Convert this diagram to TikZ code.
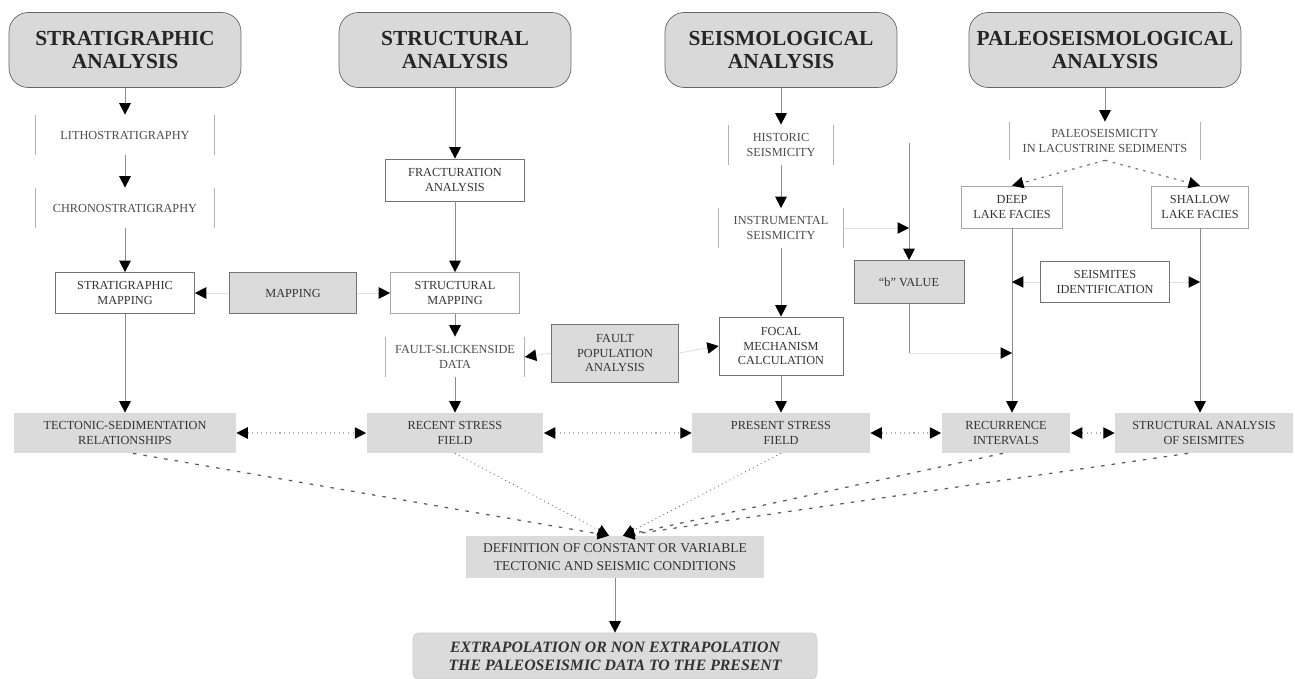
\documentclass[tikz,border=0pt]{standalone}
\usepackage{fontspec}
\setmainfont{Liberation Serif}
\usetikzlibrary{arrows.meta}

\newcommand{\titlefont}{\fontsize{12.2}{13.6}\selectfont\bfseries}
\newcommand{\boxfont}{\fontsize{7}{8.2}\selectfont}

\begin{document}
\begin{tikzpicture}[x=0.02cm, y=-0.02cm,
    >={Triangle[width=6.5pt,length=6.5pt,color=black]},
    titlebox/.style={draw=black!60, fill=black!15, rounded corners=11pt, font=\titlefont, text=black!85, align=center, inner sep=0pt, minimum height=1.5cm},
    whitebox/.style={draw=black!55, fill=white, font=\boxfont, text=black!80, align=center, inner sep=0pt, minimum height=0.82cm},
    greybox/.style={whitebox, fill=black!14},
    greyfill/.style={fill=black!14, font=\boxfont, text=black!80, align=center, inner sep=0pt, minimum height=0.8cm},
    sidebox/.style={font=\boxfont, text=black!70, align=center, inner sep=0pt, minimum height=0.8cm,
      append after command={(\tikzlastnode.north west) edge[black!30] (\tikzlastnode.south west)
        (\tikzlastnode.north east) edge[black!30] (\tikzlastnode.south east)}},
    flow/.style={black!45, line width=0.5pt, ->},
    faint/.style={black!12, line width=0.5pt, ->},
    sideways/.style={black!30, line width=0.6pt, dotted, <->},
    fork/.style={black!60, line width=0.6pt, dash pattern=on 1.5pt off 3pt, ->},
    merge/.style={black!65, line width=0.7pt, dash pattern=on 2pt off 4pt, ->},
    fine/.style={black!60, line width=0.5pt, dotted, ->}]
  \useasboundingbox (0,0) rectangle (1295,679);

  % column headings
  \draw (125,50) node[titlebox, minimum width=4.64cm] (strat) {STRATIGRAPHIC\\ANALYSIS};
  \draw (455,50) node[titlebox, minimum width=4.64cm] (struct) {STRUCTURAL\\ANALYSIS};
  \draw (781,50) node[titlebox, minimum width=4.64cm] (seismo) {SEISMOLOGICAL\\ANALYSIS};
  \draw (1105,50) node[titlebox, minimum width=5.44cm] (paleo) {PALEOSEISMOLOGICAL\\ANALYSIS};

  % stratigraphic column
  \draw (125,135) node[sidebox, minimum width=3.56cm] (litho) {LITHOSTRATIGRAPHY};
  \draw (125,208) node[sidebox, minimum width=3.56cm] (chrono) {CHRONOSTRATIGRAPHY};
  \draw (125,293) node[whitebox, minimum width=2.78cm] (stratmap) {STRATIGRAPHIC\\MAPPING};
  \draw (293,293) node[greybox, minimum width=2.54cm] (mapping) {MAPPING};
  \draw (125,433) node[greyfill, minimum width=4.44cm] (tecsed) {TECTONIC-SEDIMENTATION\\RELATIONSHIPS};

  % structural column
  \draw (455,180) node[whitebox, minimum width=2.78cm, minimum height=0.84cm] (fract) {FRACTURATION\\ANALYSIS};
  \draw (455,293) node[whitebox, draw=black!35, minimum width=2.58cm] (structmap) {STRUCTURAL\\MAPPING};
  \draw (455,357) node[sidebox, minimum width=2.78cm] (slick) {FAULT-SLICKENSIDE\\DATA};
  \draw (615,353) node[greybox, minimum width=2.54cm, minimum height=1.16cm] (faultpop) {FAULT\\POPULATION\\ANALYSIS};
  \draw (455,433) node[greyfill, minimum width=3.54cm] (recent) {RECENT STRESS\\FIELD};

  % seismological column
  \draw (781,145) node[sidebox, minimum width=2.1cm] (historic) {HISTORIC\\SEISMICITY};
  \draw (781,228) node[sidebox, minimum width=2.5cm, minimum height=0.78cm] (instr) {INSTRUMENTAL\\SEISMICITY};
  \draw (781,346) node[whitebox, minimum width=2.48cm, minimum height=1.16cm] (focal) {FOCAL\\MECHANISM\\CALCULATION};
  \draw (781,433) node[greyfill, minimum width=3.56cm] (present) {PRESENT STRESS\\FIELD};
  \draw (909,282) node[greybox, minimum width=2.2cm, minimum height=0.86cm] (bvalue) {``b'' VALUE};

  % paleoseismological column
  \draw (1105,141) node[sidebox, minimum width=3.82cm, minimum height=0.76cm] (paleosei) {PALEOSEISMICITY\\IN LACUSTRINE SEDIMENTS};
  \draw (1012,207) node[whitebox, draw=black!35, minimum width=2.02cm, minimum height=0.84cm] (deep) {DEEP\\LAKE FACIES};
  \draw (1200,207) node[whitebox, draw=black!35, minimum width=1.94cm, minimum height=0.84cm] (shallow) {SHALLOW\\LAKE FACIES};
  \draw (1105,282) node[whitebox, minimum width=2.58cm] (seisid) {SEISMITES\\IDENTIFICATION};
  \draw (1006,433) node[greyfill, minimum width=2.58cm] (recur) {RECURRENCE\\INTERVALS};
  \draw (1204,433) node[greyfill, minimum width=3.56cm] (seismites) {STRUCTURAL ANALYSIS\\OF SEISMITES};

  % synthesis
  \draw (615,557) node[greyfill, font=\fontsize{7.7}{10}\selectfont, minimum width=5.96cm, minimum height=0.84cm] (defin) {DEFINITION OF CONSTANT OR VARIABLE\\TECTONIC AND SEISMIC CONDITIONS};
  \draw (615,656) node[greyfill, draw=black!20, rounded corners=3pt, font=\fontsize{9}{10.2}\selectfont\bfseries\itshape, minimum width=8.08cm, minimum height=0.92cm] (extrap) {EXTRAPOLATION OR NON EXTRAPOLATION\\THE PALEOSEISMIC DATA TO THE PRESENT};

  \coordinate (btop) at (909,143);
  \coordinate (bbot) at (909,353);
  \coordinate (defl) at ([xshift=-0.12cm]defin.north);
  \coordinate (defr) at ([xshift=0.16cm]defin.north);

  % vertical flow
  \draw[flow] (strat.south) to (litho.north);
  \draw[flow] (litho.south) to (chrono.north);
  \draw[flow] (chrono.south) to (stratmap.north);
  \draw[flow] (stratmap.south) to (tecsed.north);
  \draw[flow] (struct.south) to (fract.north);
  \draw[flow] (fract.south) to (structmap.north);
  \draw[flow] (structmap.south) to (slick.north);
  \draw[flow] (slick.south) to (recent.north);
  \draw[flow] (seismo.south) to (historic.north);
  \draw[flow] (historic.south) to (instr.north);
  \draw[flow] (instr.south) to (focal.north);
  \draw[flow] (focal.south) to (present.north);
  \draw[flow] (btop) to (bvalue.north);
  \draw[black!45, line width=0.5pt] (bvalue.south) to (bbot);
  \draw[flow] (paleo.south) to (paleosei.north);
  \draw[flow] (deep.south) to (deep.south |- recur.north);
  \draw[flow] (shallow.south) to (shallow.south |- seismites.north);
  \draw[flow] (defin.south) to (extrap.north);

  % side inputs
  \draw[faint] (mapping.west) to (stratmap.east);
  \draw[faint] (mapping.east) to (structmap.west);
  \draw[faint] (faultpop.west) to (slick.east);
  \draw[faint] (faultpop.east) to (focal.west);
  \draw[faint] (instr.east) to (instr.east -| btop);
  \draw[faint] (bbot) to (bbot -| deep.south);
  \draw[faint] (seisid.west) to (seisid.west -| deep.south);
  \draw[faint] (seisid.east) to (seisid.east -| shallow.south);
  \draw[fork] (paleosei.south) to (deep.north);
  \draw[fork] (paleosei.south) to (shallow.north);

  % bottom row links
  \draw[sideways] (tecsed.east) to (recent.west);
  \draw[sideways] (recent.east) to (present.west);
  \draw[sideways] (present.east) to (recur.west);
  \draw[sideways] (recur.east) to (seismites.west);

  % convergence
  \draw[merge] ([xshift=0.16cm]tecsed.south) to (defl);
  \draw[fine] (recent.south) to (defl);
  \draw[fine] (present.south) to (defr);
  \draw[merge] ([xshift=-0.06cm]recur.south) to (defr);
  \draw[merge] ([xshift=-0.32cm]seismites.south) to (defr);
\end{tikzpicture}
\end{document}
